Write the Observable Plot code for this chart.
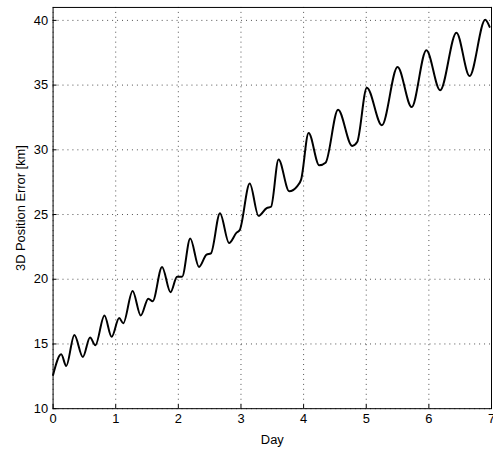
<!DOCTYPE html>
<html>
<head>
<meta charset="utf-8">
<script src="https://cdn.jsdelivr.net/npm/d3@7"></script>
<script src="https://cdn.jsdelivr.net/npm/@observablehq/plot@0.6"></script>
<style>
  html, body { margin: 0; padding: 0; background: #fff; overflow: hidden; }
  #chart { width: 493px; height: 451px; overflow: hidden; }
</style>
</head>
<body>
<div id="chart"></div>
<script>
const days = [0, 0.13, 0.21, 0.34, 0.475, 0.59, 0.675, 0.82, 0.935, 1.055, 1.12, 1.27, 1.4, 1.52, 1.59, 1.74, 1.875, 1.98, 2.06, 2.19, 2.33, 2.45, 2.52, 2.665, 2.81, 2.93, 2.98, 3.14, 3.28, 3.41, 3.48, 3.6, 3.77, 3.9, 3.96, 4.08, 4.25, 4.35, 4.55, 4.775, 4.855, 5.01, 5.25, 5.5, 5.725, 5.96, 6.18, 6.44, 6.65, 6.9, 6.97];
const errorKm = [12.6, 14.2, 13.3, 15.7, 14.0, 15.5, 14.9, 17.2, 15.55, 17.0, 16.6, 19.1, 17.2, 18.5, 18.3, 20.95, 19.0, 20.2, 20.2, 23.15, 20.95, 21.9, 22.0, 25.1, 22.8, 23.6, 23.8, 27.4, 24.9, 25.5, 25.6, 29.25, 26.8, 27.2, 27.7, 31.3, 28.8, 29.0, 33.1, 30.3, 30.6, 34.8, 31.9, 36.4, 33.3, 37.7, 34.6, 39.05, 35.7, 40.05, 39.5];
const xTicks = [0, 1, 2, 3, 4, 5, 6, 7];
const yTicks = [10, 15, 20, 25, 30, 35, 40];
const xDomain = [0, 7];
const yDomain = [10, 41];
const xLabel = "Day";
const yLabel = "3D Position Error [km]";

const data = days.map((d, i) => ({day: d, err: errorKm[i]}));

const chart = Plot.plot({
  width: 497,
  height: 451,
  marginLeft: 53,
  marginRight: 2,
  marginTop: 7,
  marginBottom: 39.5,
  style: {fontFamily: "'Liberation Sans', Arial, Helvetica, sans-serif", fontSize: "13px", color: "black", background: "white"},
  x: {domain: xDomain},
  y: {domain: yDomain},
  marks: [
    Plot.gridX(xTicks, {stroke: "black", strokeOpacity: 0.7, strokeDasharray: "1,4"}),
    Plot.gridY(yTicks, {stroke: "black", strokeOpacity: 0.7, strokeDasharray: "1,4"}),
    Plot.axisX(xTicks, {tickSize: -4, tickPadding: 9, fontSize: 13, label: xLabel, labelAnchor: "center", labelArrow: "none", labelOffset: 36}),
    Plot.axisY(yTicks, {tickSize: -4, tickPadding: 9, fontSize: 13, label: yLabel, labelAnchor: "center", labelArrow: "none", labelOffset: 38}),
    Plot.line(data, {x: "day", y: "err", stroke: "black", strokeWidth: 2, curve: "monotone-x"}),
    Plot.frame({stroke: "black", strokeWidth: 1})
  ]
});
document.getElementById("chart").appendChild(chart);
</script>
</body>
</html>
